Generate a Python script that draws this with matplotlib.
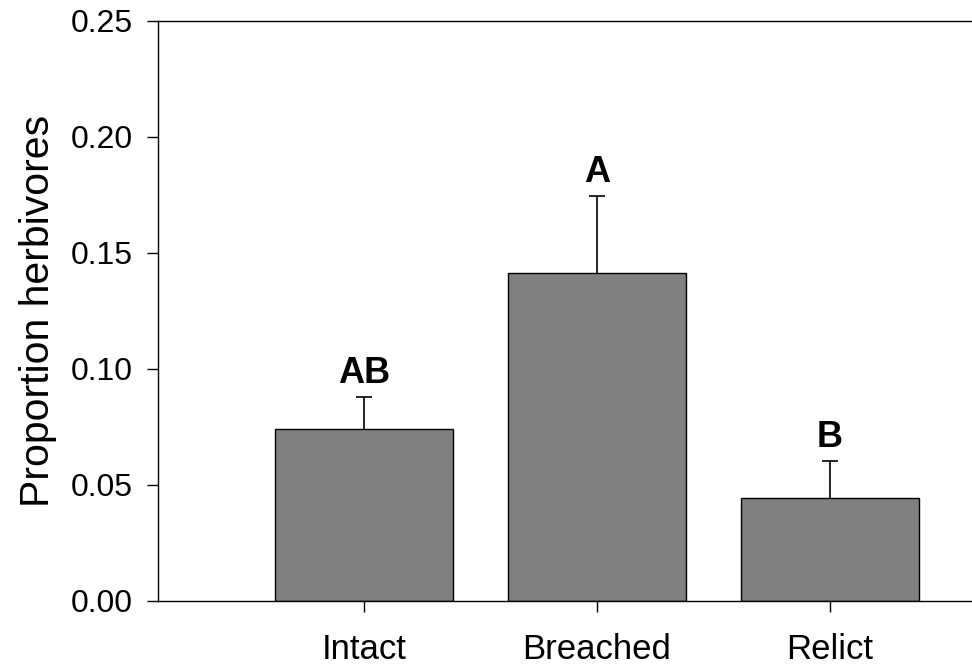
import numpy as np
import matplotlib
matplotlib.use('Agg')
import matplotlib.pyplot as plt

plt.rcParams['font.family'] = ['Liberation Sans', 'DejaVu Sans']

sites = ["Intact", "Breached", "Relict"]
means = [0.0742, 0.1412, 0.0442]
errors = [0.0138, 0.0334, 0.0160]
letters = ["AB", "A", "B"]

fig = plt.figure(figsize=(9.72, 6.70), dpi=100)
ax = fig.add_axes([0.1626, 0.1030, 1 - 0.1626, 0.8657])

x = np.arange(len(sites))
ax.bar(x, means, width=0.764, color="#808080", edgecolor="black", linewidth=1.0, zorder=2)
# only the upper half of the error bar is drawn
_, caps, _ = ax.errorbar(x, means, yerr=[np.zeros(len(means)), errors], fmt="none",
                         ecolor="black", elinewidth=1.2, capsize=5.8, capthick=1.2, zorder=3)
caps[0].set_visible(False)

for xi, m, e, lab in zip(x, means, errors, letters):
    ax.text(xi, m + e + 0.006, lab, ha="center", va="baseline",
            fontsize=26, fontweight="bold")

ax.set_xlim(-0.884, 2.61)
ax.set_ylim(0, 0.25)
ax.set_yticks([0, 0.05, 0.10, 0.15, 0.20, 0.25])
ax.set_yticklabels(["0.00", "0.05", "0.10", "0.15", "0.20", "0.25"])
ax.set_xticks(x)
ax.set_xticklabels(sites)
ax.tick_params(axis="both", direction="out", length=8, width=1.0, labelsize=23)
ax.tick_params(axis="y", pad=10)
ax.tick_params(axis="x", pad=15, labelsize=25)
ax.set_ylabel("Proportion herbivores", fontsize=29.5, labelpad=10)

ax.spines["right"].set_visible(False)
for s in ["left", "top", "bottom"]:
    ax.spines[s].set_linewidth(1.0)

plt.savefig("out.png", dpi=100)
plt.close()
